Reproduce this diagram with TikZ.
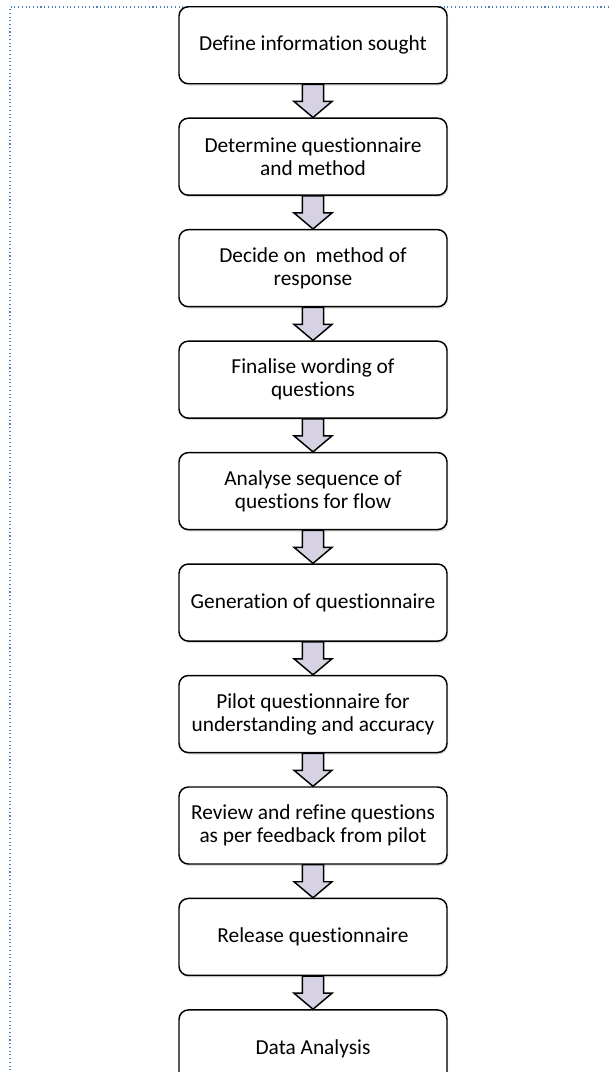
\documentclass[tikz,border=0pt]{standalone}
\usepackage{fontspec}
\setmainfont[Ligatures=CommonOff]{Carlito}
\usetikzlibrary{positioning,calc,shadows}

\definecolor{borderblue}{RGB}{79,129,189}
\definecolor{arrowfill}{RGB}{214,210,228}

\tikzset{
  stepbox/.style={draw=black, line width=1.1pt, rounded corners=7pt, fill=white,
    minimum width=201pt, minimum height=57.75pt, align=center, inner sep=2pt,
    font=\fontsize{16}{17.25}\selectfont,
    drop shadow={shadow xshift=0.8pt, shadow yshift=-1.5pt, opacity=0.25}},
  flowarrow/.style={draw=black, line width=1.1pt, line join=miter, fill=arrowfill}
}

\begin{document}
\begin{tikzpicture}
      \def \shaftw {7.9pt};
      \def \headw {14.25pt};
      \def \shaftlen {12.75pt};

      \useasboundingbox (0,0) rectangle (456.75pt,-804pt);

      % dotted frame round the chart
      \draw[borderblue, dotted, line width=0.8pt] (456.75pt,-5.25pt) -- (7.5pt,-5.25pt) -- (7.5pt,-804pt);

      \node[stepbox, anchor=north] (s1) at (234.75pt,-4.5pt) {Define information sought};
      \node[stepbox, below=24.75pt of s1] (s2) {Determine questionnaire\\and method};
      \node[stepbox, below=24.75pt of s2] (s3) {Decide on\ \ method of\\response};
      \node[stepbox, below=24.75pt of s3] (s4) {Finalise wording of\\questions};
      \node[stepbox, below=24.75pt of s4] (s5) {Analyse sequence of\\questions for flow};
      \node[stepbox, below=24.75pt of s5] (s6) {Generation of questionnaire};
      \node[stepbox, below=24.75pt of s6] (s7) {Pilot questionnaire for\\understanding and accuracy};
      \node[stepbox, below=24.75pt of s7] (s8) {Review and refine questions\\as per feedback from pilot};
      \node[stepbox, below=24.75pt of s8] (s9) {Release questionnaire};
      \node[stepbox, below=24.75pt of s9] (s10) {Data Analysis};

      % block arrows between the steps
      \foreach \a/\b in {s1/s2,s2/s3,s3/s4,s4/s5,s5/s6,s6/s7,s7/s8,s8/s9,s9/s10} {
        \draw[flowarrow] let \p1=(\a.south), \p2=(\b.north) in
          (\x1-\shaftw,\y1) -- (\x1-\shaftw,\y1-\shaftlen) -- (\x1-\headw,\y1-\shaftlen)
          -- (\x1,\y2) -- (\x1+\headw,\y1-\shaftlen) -- (\x1+\shaftw,\y1-\shaftlen)
          -- (\x1+\shaftw,\y1) -- cycle;
      }
    \end{tikzpicture}
\end{document}
